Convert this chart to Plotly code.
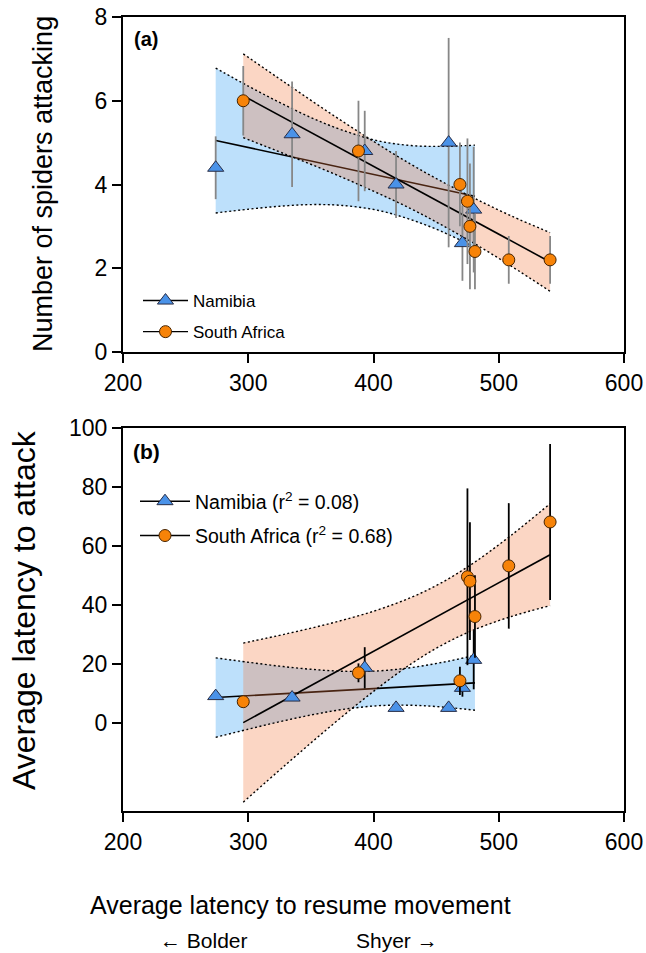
import plotly.graph_objects as go

# ---------------- data ----------------
x_ticks = [200, 300, 400, 500, 600]
ya_ticks = [0, 2, 4, 6, 8]
yb_ticks = [0, 20, 40, 60, 80, 100]

namibia_x = [274, 335, 393, 418, 460, 471, 480]
safrica_x = [296, 388, 469, 475, 477, 481, 508, 541]

# panel (a): number of spiders attacking
nam_a_y = [4.4, 5.2, 4.8, 4.0, 5.0, 2.6, 3.4]
nam_a_err = [0.75, 1.26, 0.96, 0.8, 2.5, 0.9, 1.5]
sa_a_y = [6.0, 4.8, 4.0, 3.6, 3.0, 2.4, 2.2, 2.2]
sa_a_err = [0.83, 1.2, 1.0, 1.5, 1.5, 0.9, 0.57, 0.57]

# panel (b): average latency to attack
nam_b_y = [9.0, 8.5, 18.6, 5.0, 5.0, 11.8, 21.3]
nam_b_err = [0, 0, 7.0, 0, 0, 3.0, 10.0]
sa_b_y = [7.1, 16.9, 14.2, 49.5, 48.0, 36.0, 53.2, 68.1]
sa_b_err = [0, 3.2, 4.8, 30.0, 20.0, 14.0, 21.3, 26.5]

# regression lines (end points)
nam_fit_x = [274, 481]
sa_fit_x = [296, 541]
nam_a_fit_y = [5.05, 3.72]
sa_a_fit_y = [6.12, 2.15]
nam_b_fit_y = [8.5, 13.5]
sa_b_fit_y = [0.0, 57.0]

# 95% confidence bands
nam_band_x = [274, 300, 325, 350, 375, 404, 430, 455, 481]
sa_band_x = [296, 330, 365, 400, 430, 454, 480, 510, 541]
nam_a_upper = [6.78, 6.35, 5.96, 5.60, 5.30, 5.04, 4.93, 4.91, 4.94]
nam_a_lower = [3.32, 3.41, 3.48, 3.52, 3.50, 3.38, 3.16, 2.87, 2.50]
sa_a_upper = [7.12, 6.42, 5.71, 5.03, 4.48, 4.08, 3.68, 3.25, 2.85]
sa_a_lower = [5.12, 4.72, 4.30, 3.84, 3.42, 3.04, 2.60, 2.05, 1.45]
nam_b_upper = [21.99, 20.49, 19.17, 18.11, 17.44, 17.56, 18.67, 20.46, 22.81]
nam_b_lower = [-4.99, -2.23, 0.29, 2.57, 4.44, 5.74, 5.89, 5.30, 4.21]
sa_b_upper = [27.0, 30.10, 33.62, 37.8, 42.48, 47.41, 54.22, 63.61, 74.33]
sa_b_lower = [-27.0, -14.28, -1.5, 10.6, 19.92, 26.15, 31.44, 36.01, 39.71]

# ---------------- layout helpers ----------------
FW, FH = 646, 953


def fx(p):  # window pixel -> paper x
    return p / FW


def fy(p):  # window pixel -> paper y
    return 1 - p / FH


FONT = "Liberation Sans, Arial, sans-serif"
BLUE_FILL = "rgb(189,224,251)"
ORANGE_FILL = "rgba(242,118,58,0.30)"
TRI = dict(symbol="triangle-up", size=14, color="rgb(74,146,232)",
           line=dict(color="rgb(40,45,70)", width=1))
CIRC = dict(symbol="circle", size=12, color="rgb(247,131,8)",
            line=dict(color="rgb(70,35,0)", width=1))
DOT = dict(color="black", width=1.4, dash="2px,2.5px")

fig = go.Figure()


def panel(xa, ya, nam_y, nam_err, sa_y, sa_err, nam_fit, sa_fit,
          nu, nl, su, sl, err_color):
    # Namibia band
    fig.add_trace(go.Scatter(x=nam_band_x + nam_band_x[::-1], y=nu + nl[::-1],
                             fill="toself", fillcolor=BLUE_FILL, mode="lines",
                             line=dict(width=0), hoverinfo="skip",
                             showlegend=False, xaxis=xa, yaxis=ya))
    # Namibia fit
    fig.add_trace(go.Scatter(x=nam_fit_x, y=nam_fit, mode="lines",
                             line=dict(color="black", width=1.6),
                             showlegend=False, xaxis=xa, yaxis=ya))
    # South Africa band (semi-transparent, over Namibia line)
    fig.add_trace(go.Scatter(x=sa_band_x + sa_band_x[::-1], y=su + sl[::-1],
                             fill="toself", fillcolor=ORANGE_FILL, mode="lines",
                             line=dict(width=0), hoverinfo="skip",
                             showlegend=False, xaxis=xa, yaxis=ya))
    # dotted band borders
    for bx, by in [(nam_band_x, nu), (nam_band_x, nl), (sa_band_x, su), (sa_band_x, sl)]:
        fig.add_trace(go.Scatter(x=bx, y=by, mode="lines", line=DOT,
                                 line_shape="spline", showlegend=False,
                                 xaxis=xa, yaxis=ya))
    # South Africa fit
    fig.add_trace(go.Scatter(x=sa_fit_x, y=sa_fit, mode="lines",
                             line=dict(color="black", width=1.6),
                             showlegend=False, xaxis=xa, yaxis=ya))
    # points
    fig.add_trace(go.Scatter(x=namibia_x, y=nam_y, mode="markers", marker=TRI,
                             error_y=dict(type="data", array=nam_err, width=0,
                                          thickness=1.8, color=err_color),
                             showlegend=False, xaxis=xa, yaxis=ya))
    fig.add_trace(go.Scatter(x=safrica_x, y=sa_y, mode="markers", marker=CIRC,
                             error_y=dict(type="data", array=sa_err, width=0,
                                          thickness=1.8, color=err_color),
                             showlegend=False, xaxis=xa, yaxis=ya))


panel("x", "y", nam_a_y, nam_a_err, sa_a_y, sa_a_err, nam_a_fit_y, sa_a_fit_y,
      nam_a_upper, nam_a_lower, sa_a_upper, sa_a_lower, "rgb(135,135,135)")
panel("x2", "y2", nam_b_y, nam_b_err, sa_b_y, sa_b_err, nam_b_fit_y, sa_b_fit_y,
      nam_b_upper, nam_b_lower, sa_b_upper, sa_b_lower, "black")

# legend entries
legend_names = [("Namibia", TRI, "legend", "x", "y"),
                ("South Africa", CIRC, "legend", "x", "y"),
                ("Namibia (r<sup>2</sup> = 0.08)", TRI, "legend2", "x2", "y2"),
                ("South Africa (r<sup>2</sup> = 0.68)", CIRC, "legend2", "x2", "y2")]
for i, (name, mk, lg, xa, ya) in enumerate(legend_names):
    fig.add_trace(go.Scatter(x=[None], y=[None], mode="lines+markers", name=name,
                             marker=mk, line=dict(color="black", width=1.4),
                             legend=lg, legendgroup="g%d" % i, showlegend=True,
                             xaxis=xa, yaxis=ya))

axis_common = dict(showline=True, linewidth=2, linecolor="black", mirror=True,
                   ticks="outside", ticklen=9, tickwidth=1.6, tickcolor="black",
                   showgrid=False, zeroline=False, automargin=False,
                   ticklabeloverflow="allow",
                   tickfont=dict(family=FONT, size=23, color="black"))

fig.update_layout(
    width=FW, height=FH, margin=dict(l=0, r=0, t=0, b=0, autoexpand=False),
    paper_bgcolor="white", plot_bgcolor="white",
    font=dict(family=FONT, color="black"),
    xaxis=dict(domain=[fx(123), fx(624)], range=[200, 600], tickvals=x_ticks, anchor="y", **axis_common),
    yaxis=dict(domain=[fy(352), fy(17)], range=[0, 8], tickvals=ya_ticks, anchor="x", **axis_common),
    xaxis2=dict(domain=[fx(123), fx(624)], range=[200, 600], tickvals=x_ticks, anchor="y2", **axis_common),
    yaxis2=dict(domain=[fy(811), fy(428)], range=[-30, 100], tickvals=yb_ticks, anchor="x2", **axis_common),
    legend=dict(x=fx(138), y=fy(283), xanchor="left", yanchor="top",
                itemwidth=45, tracegroupgap=6,
                bgcolor="rgba(0,0,0,0)", font=dict(family=FONT, size=17, color="black")),
    legend2=dict(x=fx(135), y=fy(482), xanchor="left", yanchor="top",
                 itemwidth=50, tracegroupgap=6,
                 bgcolor="rgba(0,0,0,0)", font=dict(family=FONT, size=19.5, color="black")),
)

ann = [
    dict(text="<b>(a)</b>", x=146, y=39, size=20),
    dict(text="<b>(b)</b>", x=146, y=452, size=21),
    dict(text="Number of spiders attacking", x=43, y=184, size=27, angle=-90),
    dict(text="Average latency to attack", x=24, y=610, size=32, angle=-90),
    dict(text="Average latency to resume movement", x=300, y=905, size=25),
    dict(text="\u2190 Bolder", x=204, y=940, size=21),
    dict(text="Shyer \u2192", x=397, y=940, size=21),
]
for a in ann:
    fig.add_annotation(text=a["text"], x=fx(a["x"]), y=fy(a["y"]),
                       xref="paper", yref="paper", xanchor="center", yanchor="middle",
                       showarrow=False, textangle=a.get("angle", 0),
                       font=dict(family=FONT, size=a["size"], color="black"))

# the default page has an 8px body margin; remove it so the figure fills the window
fig.write_html("out.html", config={"displayModeBar": False},
               post_script="document.body.style.margin='0';document.body.style.overflow='hidden';")
